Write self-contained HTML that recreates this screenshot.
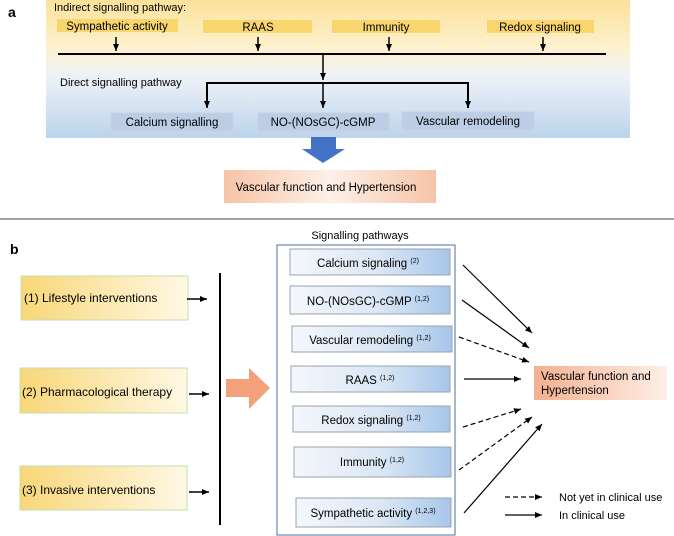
<!DOCTYPE html>
<html><head><meta charset="utf-8"><style>
html,body{margin:0;padding:0;background:#fff;}
svg{display:block;font-family:"Liberation Sans",Arial,sans-serif;}
</style></head><body>
<svg width="674" height="536" viewBox="0 0 674 536" xmlns="http://www.w3.org/2000/svg">
<defs>
<linearGradient id="bgA" x1="0" y1="0" x2="0" y2="1">
<stop offset="0" stop-color="#fbe29a"/><stop offset="0.35" stop-color="#fdf1cf"/><stop offset="0.55" stop-color="#eef2f8"/><stop offset="1" stop-color="#bcd3ec"/></linearGradient>
<linearGradient id="peach" x1="0" y1="0" x2="1" y2="0">
<stop offset="0" stop-color="#f6c4a6"/><stop offset="0.5" stop-color="#fdf0e8"/><stop offset="1" stop-color="#f6c4a6"/></linearGradient>
<linearGradient id="peach2" x1="0" y1="0" x2="1" y2="0">
<stop offset="0" stop-color="#f4b08e"/><stop offset="1" stop-color="#fdf0e8"/></linearGradient>
<linearGradient id="yel" x1="0" y1="0" x2="1" y2="0">
<stop offset="0" stop-color="#f8d778"/><stop offset="1" stop-color="#fff8e4"/></linearGradient>
<linearGradient id="inner" x1="0" y1="0" x2="1" y2="0">
<stop offset="0" stop-color="#f4f7fc"/><stop offset="0.55" stop-color="#dbe7f5"/><stop offset="1" stop-color="#a7c6ea"/></linearGradient>
<marker id="ah" markerWidth="8" markerHeight="8" refX="7" refY="4" orient="auto" markerUnits="userSpaceOnUse"><path d="M0,1 L7,4 L0,7 Z" fill="#000"/></marker>
</defs>

<!-- Panel a -->
<rect x="46" y="0" width="584" height="138" fill="url(#bgA)"/>
<text x="8" y="17" font-size="14" font-weight="bold">a</text>
<text x="54" y="11" font-size="11">Indirect signalling pathway:</text>
<rect x="57" y="19" width="121" height="13" fill="#f9d56e"/>
<rect x="203" y="20" width="109" height="13" fill="#f9d56e"/>
<rect x="332" y="20" width="108" height="13" fill="#f9d56e"/>
<rect x="487" y="20" width="107" height="13" fill="#f9d56e"/>
<text x="117" y="30" font-size="11.5" text-anchor="middle">Sympathetic activity</text>
<text x="258" y="31" font-size="11.5" text-anchor="middle">RAAS</text>
<text x="386" y="31" font-size="11.5" text-anchor="middle">Immunity</text>
<text x="540" y="31" font-size="11.5" text-anchor="middle">Redox signaling</text>
<g stroke="#000" stroke-width="1.5" fill="none">
<line x1="116" y1="37" x2="116" y2="51" marker-end="url(#ah)"/>
<line x1="258" y1="37" x2="258" y2="51" marker-end="url(#ah)"/>
<line x1="389" y1="37" x2="389" y2="51" marker-end="url(#ah)"/>
<line x1="543" y1="37" x2="543" y2="51" marker-end="url(#ah)"/>
<line x1="58" y1="54" x2="606" y2="54" stroke-width="2"/>
<line x1="323" y1="55" x2="323" y2="80" marker-end="url(#ah)"/>
<polyline points="207,107 207,83 468,83 468,108" stroke-width="2"/>
<line x1="207" y1="95" x2="207" y2="108" marker-end="url(#ah)"/>
<line x1="468" y1="95" x2="468" y2="108" marker-end="url(#ah)"/>
<line x1="323" y1="83" x2="323" y2="108" marker-end="url(#ah)"/>
</g>
<text x="60" y="86" font-size="11">Direct signalling pathway</text>
<g fill="#bdcde6" stroke="#c8d2e0">
<rect x="111" y="113" width="122" height="18"/>
<rect x="258" y="113" width="131" height="18"/>
<rect x="402" y="112" width="132" height="18"/>
</g>
<text x="172" y="126" font-size="11.5" text-anchor="middle">Calcium signalling</text>
<text x="323" y="126" font-size="11.5" text-anchor="middle">NO-(NOsGC)-cGMP</text>
<text x="468" y="125" font-size="11.5" text-anchor="middle">Vascular remodeling</text>
<path d="M311,137 L336,137 L336,149 L345,149 L323,163 L302,149 L311,149 Z" fill="#4472c4"/>
<rect x="224" y="170" width="212" height="33" fill="url(#peach)"/>
<text x="326" y="191" font-size="11.5" text-anchor="middle">Vascular function and Hypertension</text>
<line x1="0" y1="219" x2="674" y2="219" stroke="#444" stroke-width="1"/>

<!-- Panel b -->
<text x="10" y="254" font-size="14" font-weight="bold">b</text>
<text x="360" y="239" font-size="11" text-anchor="middle">Signalling pathways</text>
<rect x="277" y="245" width="178" height="290" fill="#fff" stroke="#4a6fa5" stroke-width="1"/>
<g stroke="#9aa3ad" stroke-width="1" fill="url(#inner)">
<rect x="290" y="249" width="160" height="26"/>
<rect x="290" y="286" width="160" height="28"/>
<rect x="292" y="326" width="160" height="26"/>
<rect x="291" y="366" width="159" height="26"/>
<rect x="293" y="406" width="157" height="26"/>
<rect x="294" y="447" width="157" height="30"/>
<rect x="296" y="498" width="155" height="29"/>
</g>
<g font-size="11.5" text-anchor="middle">
<text x="368" y="267">Calcium signaling <tspan font-size="7" dy="-4">(2)</tspan></text>
<text x="368" y="305">NO-(NOsGC)-cGMP <tspan font-size="7" dy="-4">(1,2)</tspan></text>
<text x="370" y="344">Vascular remodeling <tspan font-size="7" dy="-4">(1,2)</tspan></text>
<text x="370" y="384">RAAS <tspan font-size="7" dy="-4">(1,2)</tspan></text>
<text x="371" y="424">Redox signaling <tspan font-size="7" dy="-4">(1,2)</tspan></text>
<text x="372" y="466">Immunity <tspan font-size="7" dy="-4">(1,2)</tspan></text>
<text x="373" y="517">Sympathetic activity <tspan font-size="7" dy="-4">(1,2,3)</tspan></text>
</g>
<g stroke="#c6dcae" stroke-width="1" fill="url(#yel)">
<rect x="21" y="276" width="167" height="44"/>
<rect x="20" y="368" width="167" height="45"/>
<rect x="20" y="466" width="167" height="44"/>
</g>
<g font-size="12">
<text x="24" y="302">(1) Lifestyle interventions</text>
<text x="22" y="396">(2) Pharmacological therapy</text>
<text x="22" y="494">(3) Invasive interventions</text>
</g>
<g stroke="#000" stroke-width="1.5" fill="none">
<line x1="187" y1="299" x2="207" y2="299" marker-end="url(#ah)"/>
<line x1="189" y1="394" x2="209" y2="394" marker-end="url(#ah)"/>
<line x1="189" y1="492" x2="209" y2="492" marker-end="url(#ah)"/>
<line x1="220" y1="273" x2="220" y2="525" stroke-width="2"/>
</g>
<path d="M226,379 L249,379 L249,368 L270,388 L249,409 L249,397 L226,397 Z" fill="#f4a07a"/>
<g stroke="#000" stroke-width="1.2" fill="none">
<line x1="463" y1="265" x2="532" y2="333" marker-end="url(#ah)"/>
<line x1="462" y1="300" x2="529" y2="348" marker-end="url(#ah)"/>
<line x1="459" y1="337" x2="529" y2="362" stroke-dasharray="5,3" marker-end="url(#ah)"/>
<line x1="464" y1="379" x2="521" y2="379" marker-end="url(#ah)"/>
<line x1="463" y1="427" x2="521" y2="409" stroke-dasharray="5,3" marker-end="url(#ah)"/>
<line x1="459" y1="470" x2="532" y2="417" stroke-dasharray="5,3" marker-end="url(#ah)"/>
<line x1="464" y1="513" x2="542" y2="424" marker-end="url(#ah)"/>
<line x1="505" y1="497" x2="542" y2="497" stroke-dasharray="5,3" marker-end="url(#ah)"/>
<line x1="505" y1="515" x2="542" y2="515" marker-end="url(#ah)"/>
</g>
<rect x="534" y="366" width="133" height="34" fill="url(#peach2)"/>
<text x="541" y="380" font-size="11.5">Vascular function and</text>
<text x="541" y="394" font-size="11.5">Hypertension</text>
<text x="559" y="501" font-size="11">Not yet in clinical use</text>
<text x="559" y="519" font-size="11">In clinical use</text>
</svg>
</body></html>
